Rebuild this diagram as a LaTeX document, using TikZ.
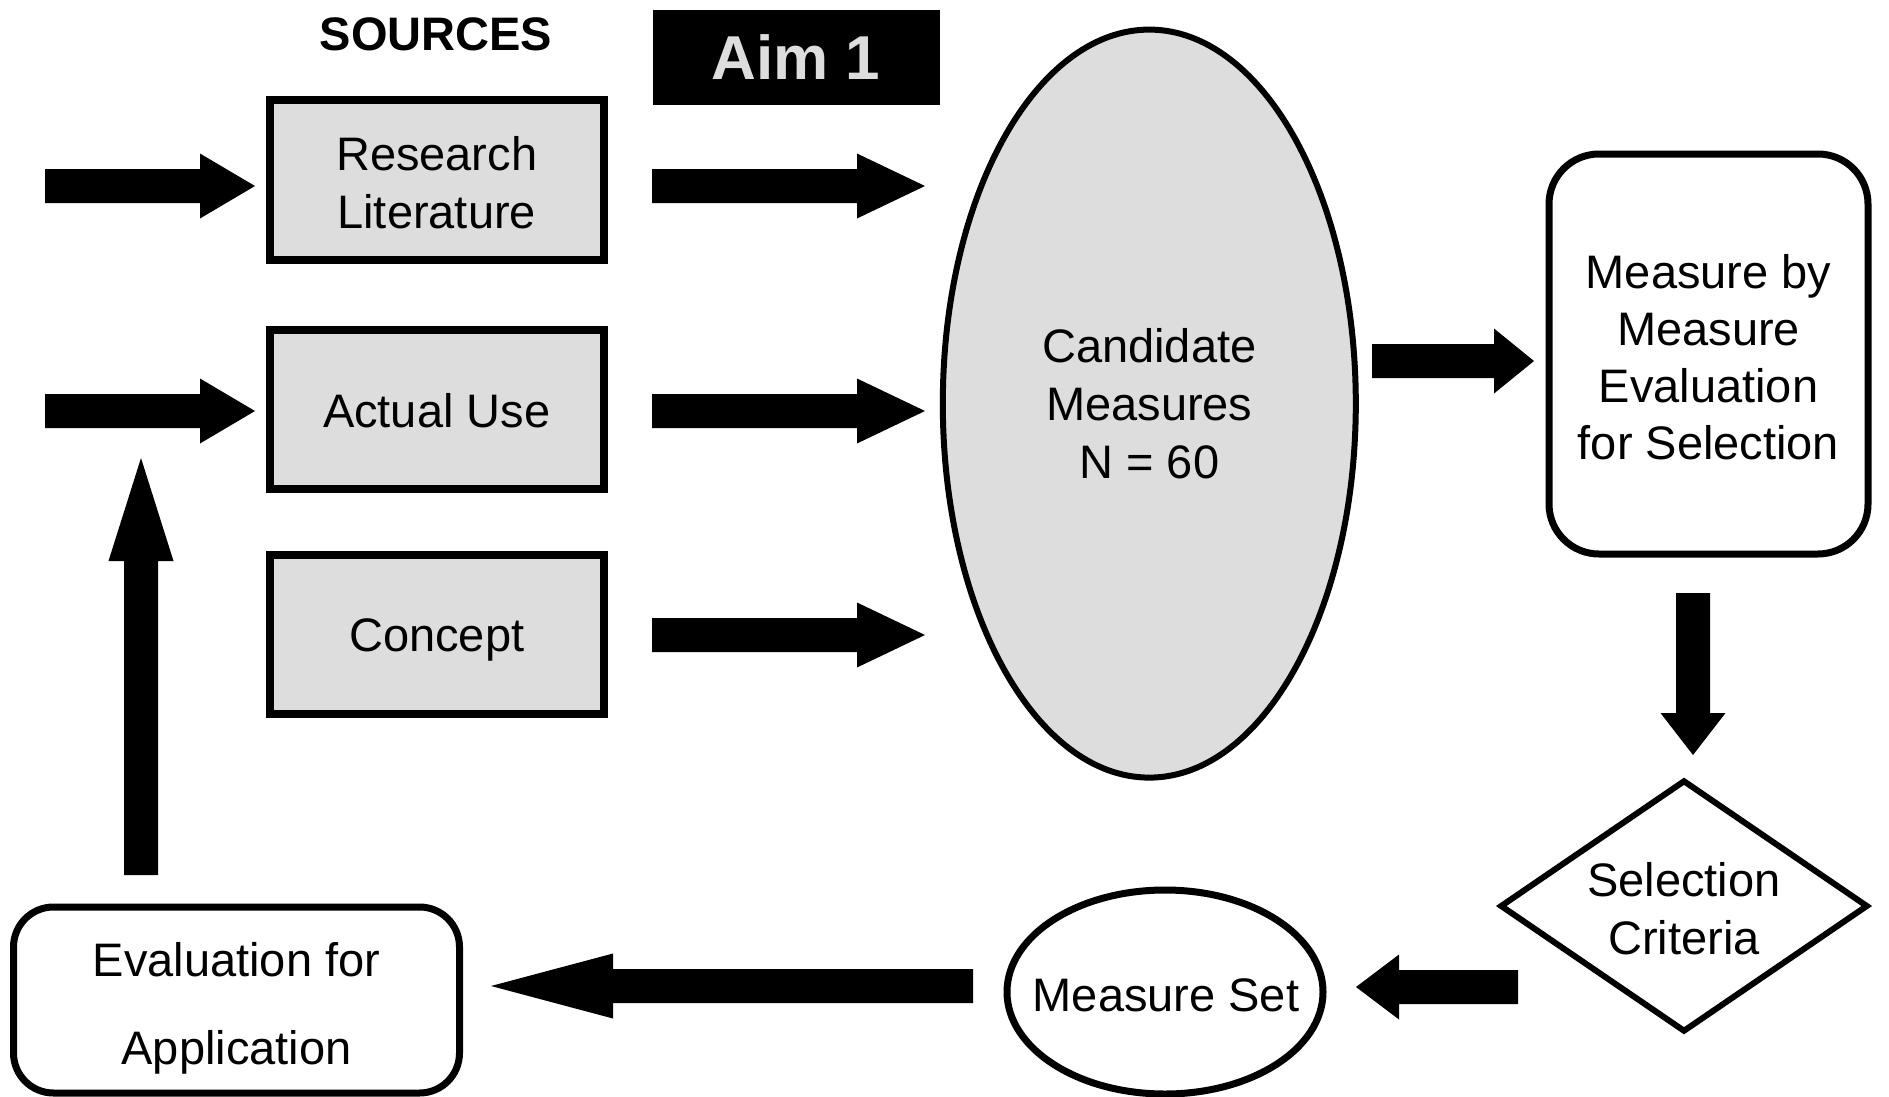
\documentclass[tikz,border=0pt]{standalone}
\usepackage{fontspec}
\setmainfont{Liberation Sans}
\usetikzlibrary{calc,shapes.geometric}
\definecolor{boxgray}{HTML}{DDDDDD}
\newcommand{\BlockArrow}[3]{%
  \coordinate (tmph) at ($(#2)!#3!(#1)$);
  \fill[black] ($(#1)!17pt!90:(#2)$) -- ($(tmph)!17pt!-90:(#1)$) -- ($(tmph)!32.5pt!-90:(#1)$)
    -- (#2) -- ($(tmph)!32.5pt!90:(#1)$) -- ($(tmph)!17pt!90:(#1)$) -- ($(#1)!17pt!-90:(#2)$) -- cycle;}
\tikzset{
  txt/.style={font=\fontsize{47}{58}\selectfont, align=center, inner sep=0pt},
  srcbox/.style={draw, line width=8pt, fill=boxgray, minimum width=334pt, minimum height=159pt, inner sep=0pt},
  rbox/.style={draw, line width=7pt, rounded corners=50pt, fill=white, inner sep=0pt},
}
\begin{document}
\begin{tikzpicture}[x=1pt,y=-1pt]
\useasboundingbox (0,0) rectangle (1889,1097);
% title and aim
\node[font=\fontsize{47}{58}\selectfont\bfseries] (sources) at (436,34) {SOURCES};
\node[fill=black, minimum width=287pt, minimum height=95pt, inner sep=0pt, text=boxgray,
      font=\fontsize{62}{70}\selectfont\bfseries] (aim) at (796,57.5) {Aim 1};
% source boxes
\node[srcbox] (res) at (436.7,180) {};
\node[txt] (res-t) at (436.7,182.5) {Research\\Literature};
\node[srcbox] (act) at (436.7,409.6) {};
\node[txt] (act-t) at (436.7,411) {Actual Use};
\node[srcbox] (con) at (436.7,634.3) {};
\node[txt] (con-t) at (436.7,640) {Concept};
% candidate ellipse
\node[ellipse, draw, line width=6pt, fill=boxgray, minimum width=413pt, minimum height=748pt, inner sep=0pt] (cand) at (1149.3,403.6) {};
\node[txt] (cand-t) at (1149.3,403.6) {Candidate\\Measures\\N = 60};
% measure by measure box
\node[rbox, minimum width=319pt, minimum height=400pt] (mbm) at (1708.5,354) {};
\node[txt, font=\fontsize{47}{57}\selectfont] (mbm-t) at (1708.5,357.3) {Measure by\\Measure\\Evaluation\\for Selection};
% diamond
\node[diamond, draw, line width=6pt, fill=white, minimum width=368pt, minimum height=252pt, inner sep=0pt] (sel) at (1684,906) {};
\node[txt] (sel-t) at (1684,908.5) {Selection\\Criteria};
% measure set
\node[ellipse, draw, line width=7pt, fill=white, minimum width=316pt, minimum height=204pt, inner sep=0pt] (mset) at (1165,992) {};
\node[txt] (mset-t) at (1166,995.5) {Measure Set};
% evaluation for application
\node[rbox, minimum width=446pt, minimum height=186pt, rounded corners=40pt] (evap) at (236.5,1000) {};
\node[txt, font=\fontsize{47}{88}\selectfont] (evap-t) at (236.5,1008) {Evaluation for\\Application};
% arrow coordinates
\coordinate (l1s) at (45,186);   \coordinate (l1t) at (255,186);
\coordinate (l2s) at (45,411);   \coordinate (l2t) at (255,411);
\coordinate (r1s) at (652,186);  \coordinate (r1t) at (925,186);
\coordinate (r2s) at (652,411);  \coordinate (r2t) at (925,411);
\coordinate (r3s) at (652,635);  \coordinate (r3t) at (925,635);
\coordinate (ups) at (141,875);  \coordinate (upt) at (141,458);
\coordinate (cms) at (1372,361); \coordinate (cmt) at (1534,361);
\coordinate (dns) at (1693,593); \coordinate (dnt) at (1693,755);
\coordinate (sms) at (1518,987); \coordinate (smt) at (1356,987);
\coordinate (mes) at (973,986);  \coordinate (met) at (491,986);
\BlockArrow{l1s}{l1t}{55pt}
\BlockArrow{l2s}{l2t}{55pt}
\BlockArrow{r1s}{r1t}{68pt}
\BlockArrow{r2s}{r2t}{68pt}
\BlockArrow{r3s}{r3t}{68pt}
\BlockArrow{ups}{upt}{103pt}
\BlockArrow{cms}{cmt}{40pt}
\BlockArrow{dns}{dnt}{42pt}
\BlockArrow{sms}{smt}{43pt}
\BlockArrow{mes}{met}{122pt}
\end{tikzpicture}
\end{document}
